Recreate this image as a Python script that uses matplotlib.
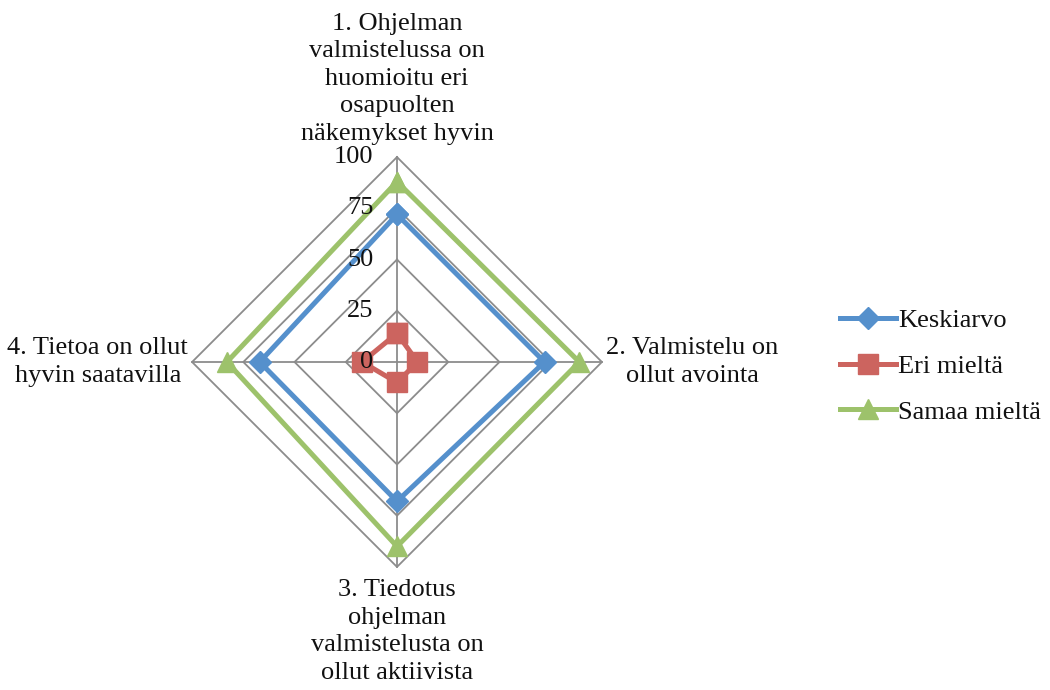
import matplotlib.pyplot as plt
import numpy as np

# Data
categories = ['1. Ohjelman\nvalmistelussa on\nhuomioitu eri\nosapuolten\nnäkemykset hyvin',
              '2. Valmistelu on\nollut avointa',
              '3. Tiedotus\nohjelman\nvalmistelusta on\nollut aktiivista',
              '4. Tietoa on ollut\nhyvin saatavilla']
keskiarvo = [72, 72, 68, 67]
eri_mielta = [14, 10, 10, 17]
samaa_mielta = [88, 89, 90, 83]
ticks = [0, 25, 50, 75, 100]
series_names = ['Keskiarvo', 'Eri mieltä', 'Samaa mieltä']

plt.rcParams['font.family'] = ['Liberation Serif', 'DejaVu Serif']
fs = 19
lsp = 1.32

fig = plt.figure(figsize=(10.5, 6.9), dpi=100)
# center of the radar at (397, 362) px, 205 px per 100 units
ax = fig.add_axes([(397 - 250) / 1050, (690 - 362 - 250) / 690, 500 / 1050, 500 / 690])
ax.set_xlim(-122, 122)
ax.set_ylim(-122, 122)
ax.axis('off')

n = len(categories)
ang = np.arange(n) * 2 * np.pi / n  # clockwise from top


def xy(vals):
    v = np.array(list(vals) + [vals[0]], dtype=float)
    a = np.append(ang, ang[0])
    return v * np.sin(a), v * np.cos(a)


grid_col = '#8c8c8c'
for t in ticks[1:]:
    gx, gy = xy([t] * n)
    ax.plot(gx, gy, color=grid_col, lw=1.3, zorder=1)
for a in ang:
    ax.plot([0, 100 * np.sin(a)], [0, 100 * np.cos(a)], color=grid_col, lw=1.3, zorder=1)

# tick labels drawn above the series
for t in ticks:
    ax.text(-11.5, t, str(t), ha='right', va='center', fontsize=fs, zorder=5, color='#111111')

styles = [('#5590CC', 'D', 11), ('#CC645F', 's', 14), ('#9DC26B', '^', 15)]
handles = []
for vals, name, (c, m, ms) in zip([keskiarvo, eri_mielta, samaa_mielta], series_names, styles):
    sx, sy = xy(vals)
    h, = ax.plot(sx, sy, color=c, lw=3.6, marker=m, markersize=ms, label=name,
                 zorder=3, solid_joinstyle='miter')
    handles.append(h)

# category labels
kw = dict(fontsize=fs, linespacing=lsp, clip_on=False, color='#111111')
ax.text(0, 106, categories[0], ha='center', va='bottom', **kw)
ax.text(144, 0, categories[1], ha='center', va='center', **kw)
ax.text(0, -106, categories[2], ha='center', va='top', **kw)
ax.text(-146, 0, categories[3], ha='center', va='center', **kw)

fig.legend(handles=handles, loc='center left', bbox_to_anchor=(827 / 1050, 1 - 366 / 690),
           frameon=False, fontsize=fs, handlelength=2.1, handletextpad=0.1,
           labelspacing=0.85, borderpad=0, labelcolor='#111111')

fig.savefig('out.png', dpi=100)
